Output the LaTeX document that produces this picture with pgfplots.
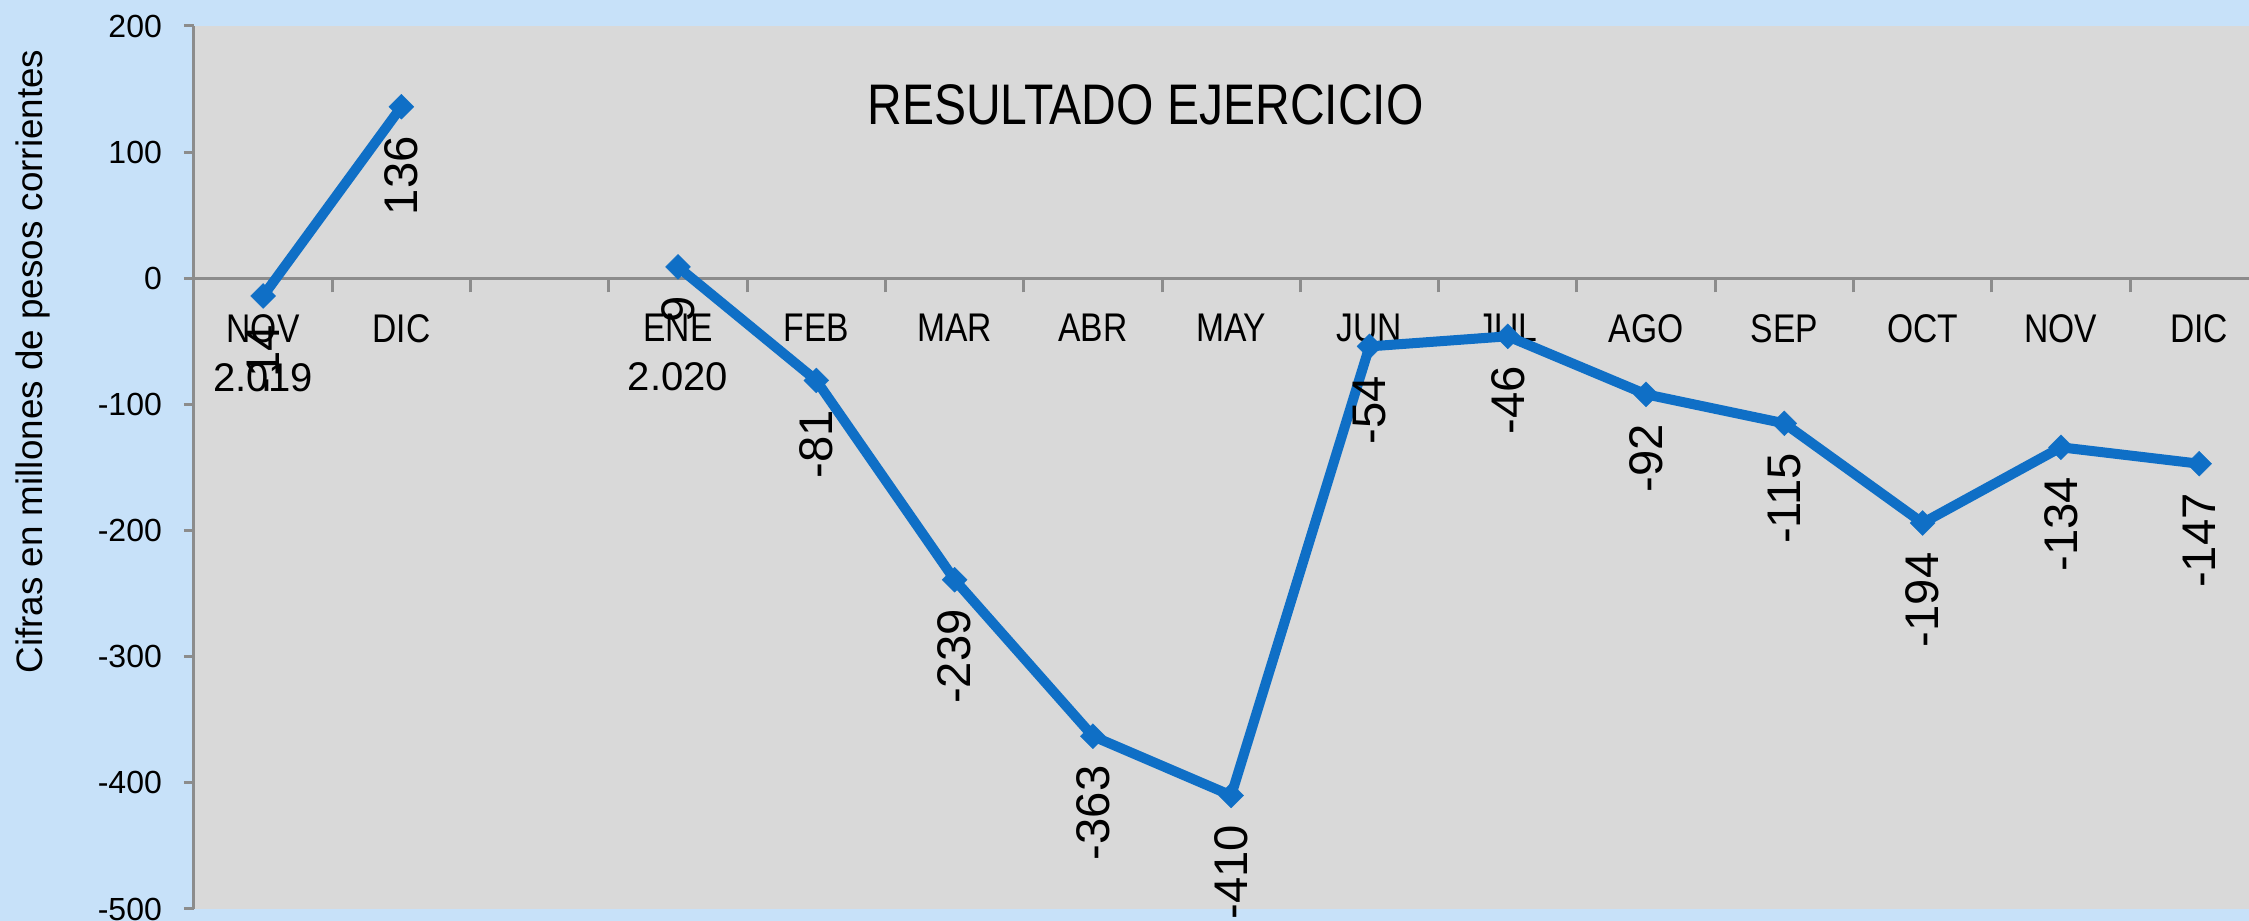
\documentclass[border=0pt]{standalone}
\usepackage{fontspec}
\setmainfont{Liberation Sans}
\newfontfamily\narrowfont{Liberation Sans}[FakeStretch=0.84]
\usepackage{pgfplots}
\pgfplotsset{compat=1.18}
\usetikzlibrary{backgrounds,calc}

\definecolor{chartbg}{RGB}{199,225,249}
\definecolor{plotbg}{RGB}{217,217,217}
\definecolor{serie}{RGB}{15,111,198}
\definecolor{axisgray}{RGB}{140,140,140}

\newcommand{\yr}[1]{{\normalfont\fontsize{10}{12.25}\selectfont #1}}

\begin{document}
\begin{tikzpicture}
\begin{axis}[
  name=main,
  scale only axis, width=513.75pt, height=220.75pt,
  xmin=-0.5, xmax=14.36, ymin=-500, ymax=200,
  axis x line=middle, axis y line=left,
  axis line style={-, draw=axisgray, line width=0.75pt},
  every inner x axis line/.append style={-},
  every outer y axis line/.append style={-},
  axis background/.style={fill=plotbg},
  clip=false,
  tick align=outside,
  xtick={0,...,14},
  xticklabels={{NOV\\\yr{2.019}},DIC,,{ENE\\\yr{2.020}},FEB,MAR,ABR,MAY,JUN,JUL,AGO,SEP,OCT,NOV,DIC},
  minor xtick={0.5,1.5,...,13.5},
  major x tick style={draw=none},
  ytick={-500,-400,...,200},
  major tick length=2.5pt, minor tick length=3.5pt,
  tick style={draw=axisgray, line width=0.75pt},
  xticklabel style={font=\narrowfont\fontsize{10}{12.25}\selectfont, align=center, yshift=-3pt},
  yticklabel style={font=\fontsize{8}{9.6}\selectfont, xshift=-2pt},
  /pgf/number format/assume math mode=true,
  ylabel={Cifras en millones de pesos corrientes},
  ylabel style={at={(rel axis cs:-0.0735,0.62)}, anchor=base, font=\fontsize{9.2}{10}\selectfont},
  nodes near coords,
  nodes near coords style={font=\fontsize{11.8}{13}\selectfont, text=black, yshift=-4pt, rotate=90, anchor=east},
]
% 2019
\addplot[serie, line width=2.5pt, mark=square*, mark size=2.2pt,
  mark options={rotate=45, line width=0.1pt, solid}]
  coordinates {(0,-14) (1,136)};
% 2020
\addplot[serie, line width=2.5pt, mark=square*, mark size=2.2pt,
  mark options={rotate=45, line width=0.1pt, solid}]
  coordinates {(3,9) (4,-81) (5,-239) (6,-363) (7,-410) (8,-54) (9,-46)
               (10,-92) (11,-115) (12,-194) (13,-134) (14,-147)};
\node[font=\narrowfont\fontsize{14.3}{16}\selectfont, anchor=base]
  at (rel axis cs:0.463,0.889) {RESULTADO EJERCICIO};
\end{axis}
\coordinate (bl) at ($(main.south west)+(-48.5pt,-3pt)$);
\coordinate (tr) at ($(main.north east)+(0pt,6.5pt)$);
\begin{scope}[on background layer]
  \fill[chartbg] (bl) rectangle (tr);
\end{scope}
\pgfresetboundingbox
\path[use as bounding box] (bl) rectangle (tr);
\end{tikzpicture}
\end{document}
